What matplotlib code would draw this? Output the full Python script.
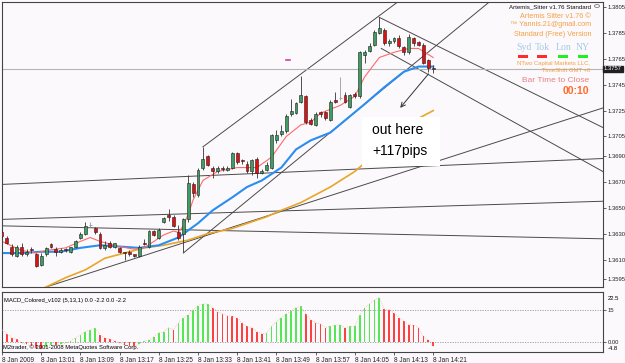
import numpy as np
import matplotlib.pyplot as plt
from matplotlib.patches import Rectangle

plt.rcParams['font.family'] = ['Liberation Sans', 'DejaVu Sans']

W, H = 625, 363
BG = '#fcf9fc'

# --- velas M1 EURUSD, 8 Jan 2009 12:53 .. 14:21 ---
opens = [1.3631, 1.3627, 1.3620, 1.3613, 1.3620, 1.3614, 1.3618, 1.3614, 1.3606, 1.3614,
         1.3622, 1.3618, 1.3616, 1.3618, 1.3616, 1.3620, 1.3627, 1.3630, 1.3637, 1.3634,
         1.3630, 1.3619, 1.3623, 1.3620, 1.3619, 1.3616, 1.3616, 1.3614, 1.3613, 1.3623,
         1.3620, 1.3632, 1.3627, 1.3639, 1.3644, 1.3643, 1.3631, 1.3630, 1.3641, 1.3668,
         1.3660, 1.3681, 1.3690, 1.3681, 1.3678, 1.3681, 1.3679, 1.3681, 1.3692, 1.3687,
         1.3684, 1.3678, 1.3688, 1.3677, 1.3679, 1.3681, 1.3702, 1.3707, 1.3709, 1.3722,
         1.3723, 1.3732, 1.3736, 1.3718, 1.3714, 1.3724, 1.3724, 1.3718, 1.3733, 1.3735,
         1.3737, 1.3728, 1.3738, 1.3736, 1.3768, 1.3771, 1.3776, 1.3785, 1.3787, 1.3777,
         1.3779, 1.3781, 1.3774, 1.3770, 1.3781, 1.3778, 1.3776, 1.3764, 1.3758]
highs = [1.3633, 1.3628, 1.3622, 1.3621, 1.3623, 1.3618, 1.3620, 1.3615, 1.3615, 1.3620,
         1.3623, 1.3620, 1.3619, 1.3619, 1.3620, 1.3625, 1.3631, 1.3639, 1.3639, 1.3635,
         1.3631, 1.3624, 1.3624, 1.3623, 1.3620, 1.3616, 1.3617, 1.3614, 1.3621, 1.3626,
         1.3633, 1.3633, 1.3634, 1.3643, 1.3649, 1.3644, 1.3637, 1.3642, 1.3675, 1.3670,
         1.3681, 1.3697, 1.3691, 1.3682, 1.3682, 1.3682, 1.3682, 1.3693, 1.3693, 1.3688,
         1.3686, 1.3688, 1.3689, 1.3680, 1.3685, 1.3707, 1.3710, 1.3714, 1.3722, 1.3734,
         1.3732, 1.3752, 1.3737, 1.3719, 1.3724, 1.3725, 1.3725, 1.3733, 1.3739, 1.3751,
         1.3739, 1.3738, 1.3739, 1.3771, 1.3772, 1.3777, 1.3787, 1.3797, 1.3789, 1.3780,
         1.3782, 1.3783, 1.3775, 1.3784, 1.3782, 1.3779, 1.3777, 1.3765, 1.3760]
lows = [1.3626, 1.3622, 1.3613, 1.3612, 1.3613, 1.3613, 1.3615, 1.3604, 1.3605, 1.3613,
        1.3619, 1.3613, 1.3615, 1.3616, 1.3615, 1.3619, 1.3626, 1.3629, 1.3635, 1.3630,
        1.3618, 1.3617, 1.3619, 1.3619, 1.3615, 1.3610, 1.3613, 1.3612, 1.3612, 1.3621,
        1.3619, 1.3628, 1.3626, 1.3638, 1.3640, 1.3635, 1.3625, 1.3616, 1.3639, 1.3658,
        1.3658, 1.3679, 1.3682, 1.3673, 1.3677, 1.3678, 1.3678, 1.3680, 1.3684, 1.3684,
        1.3677, 1.3675, 1.3673, 1.3676, 1.3678, 1.3680, 1.3700, 1.3705, 1.3708, 1.3721,
        1.3722, 1.3731, 1.3715, 1.3714, 1.3713, 1.3720, 1.3718, 1.3717, 1.3731, 1.3733,
        1.3731, 1.3727, 1.3735, 1.3735, 1.3762, 1.3770, 1.3775, 1.3784, 1.3776, 1.3775,
        1.3777, 1.3773, 1.3768, 1.3769, 1.3775, 1.3775, 1.3761, 1.3755, 1.3754]
closes = [1.3628, 1.3623, 1.3614, 1.3620, 1.3614, 1.3616, 1.3617, 1.3605, 1.3613, 1.3619,
          1.3620, 1.3616, 1.3617, 1.3617, 1.3620, 1.3624, 1.3630, 1.3636, 1.3637, 1.3631,
          1.3619, 1.3621, 1.3620, 1.3623, 1.3616, 1.3615, 1.3614, 1.3613, 1.3620, 1.3622,
          1.3632, 1.3629, 1.3633, 1.3642, 1.3643, 1.3636, 1.3627, 1.3641, 1.3669, 1.3661,
          1.3679, 1.3688, 1.3683, 1.3678, 1.3681, 1.3680, 1.3681, 1.3692, 1.3685, 1.3686,
          1.3678, 1.3687, 1.3677, 1.3678, 1.3683, 1.3706, 1.3706, 1.3709, 1.3721, 1.3725,
          1.3731, 1.3737, 1.3716, 1.3715, 1.3722, 1.3722, 1.3719, 1.3732, 1.3732, 1.3735,
          1.3732, 1.3737, 1.3736, 1.3770, 1.3770, 1.3775, 1.3786, 1.3789, 1.3777, 1.3779,
          1.3781, 1.3775, 1.3770, 1.3782, 1.3777, 1.3776, 1.3762, 1.3758, 1.3757]

# --- medias moviles (indice de barra, precio) ---
ma_fast_i = [0, 4, 7, 9, 13, 16, 18, 20, 22, 24, 27, 29, 31, 33, 35, 36, 37, 38, 39, 41,
             44, 48, 52, 55, 58, 61, 63, 65, 69, 72, 74, 77, 80, 83, 85, 88]
ma_fast = [1.3624, 1.3617, 1.3615, 1.3617, 1.3619, 1.3624, 1.3627, 1.3624, 1.3622, 1.3620,
           1.3618, 1.3619, 1.3624, 1.3629, 1.3632, 1.3631, 1.3636, 1.3645, 1.3656, 1.3671,
           1.3678, 1.3681, 1.3681, 1.3689, 1.3705, 1.3714, 1.3716, 1.3723, 1.3729, 1.3736,
           1.3751, 1.3766, 1.3770, 1.3773, 1.3773, 1.3766]
ma_mid_i = [0, 4, 8, 12, 16, 20, 24, 28, 32, 36, 40, 43, 47, 50, 53, 57, 60, 63, 67, 74,
            78, 82, 85, 88]
ma_mid = [1.3615, 1.3615, 1.3616, 1.3616, 1.3619, 1.3621, 1.3620, 1.3619, 1.3621, 1.3627,
          1.3638, 1.3648, 1.3658, 1.3666, 1.3671, 1.3681, 1.3695, 1.3702, 1.3708, 1.3730,
          1.3743, 1.3755, 1.3759, 1.3759]
ma_slow_i = [8, 13, 17, 21, 25, 29, 33, 38, 42, 47, 54, 57, 61, 67, 72, 76, 83, 88]
ma_slow = [1.3587, 1.3596, 1.3602, 1.3611, 1.3615, 1.3619, 1.3621, 1.3625, 1.3630, 1.3634,
           1.3643, 1.3648, 1.3654, 1.3666, 1.3678, 1.3691, 1.3715, 1.3725]

# --- histograma MACD_Colored (5,13,1) ---
macd = [5.6, 3.8, 1.9, 1.2, -0.5, -1.2, -1.8, -3.0, -3.4, -2.4,
        -1.5, -1.6, -1.1, -0.6, 0.3, 1.9, 3.3, 4.8, 5.6, 6.6,
        3.3, 1.9, 1.2, 0.5, -0.6, -1.4, -2.0, -2.2, -1.0, 0.2,
        0.9, 2.3, 4.2, 4.8, 6.6, 5.6, 8.9, 11.3, 12.7, 15.0,
        17.0, 17.8, 17.8, 16.0, 14.2, 13.1, 12.3, 11.9, 11.3, 8.9,
        7.2, 6.6, 4.8, 3.8, 4.2, 7.2, 9.4, 11.3, 13.1, 14.6,
        16.0, 16.6, 13.1, 10.3, 8.9, 8.5, 6.7, 7.2, 7.7, 8.0,
        6.6, 7.2, 7.2, 12.7, 16.0, 17.8, 19.7, 20.8, 15.5, 15.0,
        13.6, 11.3, 10.0, 8.0, 7.7, 6.7, 2.5, 0.9, -2.2]

# --- lineas de tendencia dibujadas (barra, precio) ---
full_lines = [((0, 1.3668), (122.6, 1.3688)),
              ((0, 1.3641), (122.6, 1.3655)),
              ((0, 1.3636), (122.6, 1.3626)),
              ((9.2, 1.3589), (122.6, 1.3727))]
rays = [((37, 1.3615), (89.5, 1.3778)),
        ((41, 1.3697), (60.9, 1.3753)),
        ((77, 1.3797), (122.6, 1.3712)),
        ((77.4, 1.3773), (122.6, 1.3678))]
arrow_from = (87.4, 1.3755)
arrow_to = (80.9, 1.37255)
bid = 1.3757

time_idx = [0, 8, 16, 24, 32, 40, 48, 56, 64, 72, 80, 88]
time_labels = ['8 Jan 2009', '8 Jan 13:01', '8 Jan 13:09', '8 Jan 13:17', '8 Jan 13:25',
               '8 Jan 13:33', '8 Jan 13:41', '8 Jan 13:49', '8 Jan 13:57', '8 Jan 14:05',
               '8 Jan 14:13', '8 Jan 14:21']
price_ticks = [1.3805, 1.3785, 1.3765, 1.3745, 1.3725, 1.3705, 1.3690, 1.3670,
               1.3650, 1.3630, 1.3610, 1.3595]

ORANGE = '#f3a045'


def fx(px):
    return px / W


def fy(py):
    return 1 - py / H


fig = plt.figure(figsize=(W / 100, H / 100), dpi=100, facecolor=BG)
ax = fig.add_axes([fx(2), fy(287), 601 / W, 285 / H], facecolor=BG)
ax2 = fig.add_axes([fx(2), fy(352), 601 / W, 60 / H], facecolor=BG)

ax.set_xlim(0, 122.65)
ax.set_ylim(1.358878, 1.380886)
ax2.set_xlim(0, 122.65)
ax2.set_ylim(-4.8, 23.4)

# lineas de tendencia
for p1, p2 in full_lines:
    ax.axline(p1, p2, color='#4a4a4a', lw=0.7, zorder=1)
for (x1, y1), (x2, y2) in rays:
    s = (y2 - y1) / (x2 - x1)
    ax.plot([x1, 200], [y1, y1 + s * (200 - x1)], color='#4a4a4a', lw=0.7, zorder=1)

ax.axhline(bid, color='#b4b4b4', lw=0.8, zorder=1)
ax.plot([57.9, 58.7], [1.3764, 1.3764], color='#e03c9c', lw=1.2, zorder=2)

# medias
ax.plot(ma_slow_i, ma_slow, color='#e8a628', lw=1.2, zorder=2)
ax.plot(ma_mid_i, ma_mid, color='#2a8ef0', lw=1.5, zorder=2)
ax.plot(ma_fast_i, ma_fast, color='#ff6a6a', lw=0.8, zorder=2)

# velas
for i, (o, h, l, c) in enumerate(zip(opens, highs, lows, closes)):
    if c == o:
        ax.vlines(i, l, h, color='#9a9a9a', lw=0.6, zorder=3)
        ax.hlines(c, i - 0.3, i + 0.3, color='#9a9a9a', lw=0.6, zorder=3)
        continue
    ax.vlines(i, l, h, color='#333333', lw=0.6, zorder=3)
    face = '#3e9e62' if c > o else '#e01010'
    ax.add_patch(Rectangle((i - 0.3, min(o, c)), 0.6, abs(c - o), facecolor=face,
                           edgecolor='#1f1f1f', lw=0.4, zorder=4))

ax.annotate('', xy=arrow_to, xytext=arrow_from,
            arrowprops=dict(arrowstyle='->', color='#333333', lw=0.7, mutation_scale=8),
            zorder=5)

# ejes
for a in (ax, ax2):
    for sp in a.spines.values():
        sp.set_color('#444444')
        sp.set_linewidth(0.8)
    a.yaxis.tick_right()
    a.tick_params(axis='y', length=2, width=0.5, pad=1.5, labelsize=4.2, colors='#222222')

ax.set_xticks([])
ax.set_yticks(price_ticks)
ax.set_yticklabels([f'{p:.4f}' for p in price_ticks])

# histograma MACD
cols = ['#ff4040' if i > 0 and v < macd[i - 1] else '#55e855' for i, v in enumerate(macd)]
ax2.bar(range(len(macd)), macd, width=0.35, color=cols, zorder=2)
ax2.plot(range(len(macd)), macd, ls=':', color='#f2b8a8', lw=0.6, zorder=3)
ax2.axhline(15, color='#999999', ls=(0, (1.5, 1.5)), lw=0.6, zorder=1)
ax2.axhline(0, color='#999999', ls=(0, (1.5, 1.5)), lw=0.6, zorder=1)
ax2.set_yticks([15, 0])
ax2.set_yticklabels(['15', '0.00'])
ax2.text(1.008, 0.93, '22.5', transform=ax2.transAxes, fontsize=4.2, va='top')
ax2.text(1.008, 0.02, '-4.8', transform=ax2.transAxes, fontsize=4.2, va='bottom')
ax2.set_xticks(time_idx)
ax2.set_xticklabels(time_labels, ha='left')
ax2.tick_params(axis='x', length=2, width=0.5, pad=1.5, labelsize=4.7, colors='#222222')
ax2.text(0.003, 0.86, 'MACD_Colored_v102 (5,13,1) 0.0 -2.2 0.0 -2.2', transform=ax2.transAxes,
         fontsize=4.2, va='center')
ax2.text(0.002, 0.08, 'M2trader, \u00a9 2001-2008 MetaQuotes Software Corp.', transform=ax2.transAxes,
         fontsize=4.2, va='center', zorder=5)

# etiqueta bid
fig.text(fx(604), fy(69), f'{bid:.4f}', fontsize=4.2, color='white', va='center',
         bbox=dict(facecolor='#202020', edgecolor='#202020', pad=0.6))

# panel de textos del indicador
fig.text(fx(591), fy(7), 'Artemis_Sitter v1.76 Standard', fontsize=4.4, ha='right', va='center',
         color='#111111')
fig.patches.append(plt.Circle((fx(597), fy(6)), 2.5 / W, transform=fig.transFigure,
                              facecolor='none', edgecolor='#777777', lw=0.6))
fig.text(fx(591), fy(16), 'Artemis Sitter v1.76 \u00a9', fontsize=5.2, ha='right', va='center',
         color=ORANGE)
fig.text(fx(591), fy(25), '\u2122 Yannis.21@gmail.com', fontsize=5.2, ha='right', va='center',
         color=ORANGE)
fig.text(fx(591), fy(34), 'Standard (Free) Version', fontsize=5.2, ha='right', va='center',
         color=ORANGE)
for name, x0, col in [('Syd', 516, '#ff2a2a'), ('Tok', 535, '#ff2a2a'),
                      ('Lon', 556, '#22ee22'), ('NY', 576, '#22ee22')]:
    fig.text(fx(x0), fy(48), name, fontsize=7, family='Liberation Serif', color='#9fcbe8',
             va='center')
    fig.patches.append(Rectangle((fx(x0 + 2), fy(57.5)), 10 / W, 3 / H,
                                 transform=fig.transFigure, facecolor=col, edgecolor='none'))
fig.text(fx(590), fy(63), 'NTwo Capital Markets LLC,', fontsize=4.3, ha='right', va='center',
         color=ORANGE)
fig.text(fx(590), fy(70), 'TimeShift GMT +0', fontsize=4.3, ha='right', va='center',
         color=ORANGE)
fig.text(fx(589), fy(81), 'Bar Time to Close', fontsize=6, ha='right', va='center',
         color='#e88080')
fig.text(fx(589), fy(91.5), '00:10', fontsize=7.5, ha='right', va='center', color='#ff6a2a',
         weight='bold')

# recuadro "out here"
fig.patches.append(Rectangle((fx(362), fy(166)), 78 / W, 49 / H, transform=fig.transFigure,
                             facecolor='white', edgecolor='none', zorder=2))
fig.text(fx(372), fy(130), 'out here', fontsize=10, va='center', color='black', zorder=3)
fig.text(fx(372), fy(151), '+117pips', fontsize=10, va='center', color='black', zorder=3)

fig.savefig('out.png', dpi=100, facecolor=BG)
